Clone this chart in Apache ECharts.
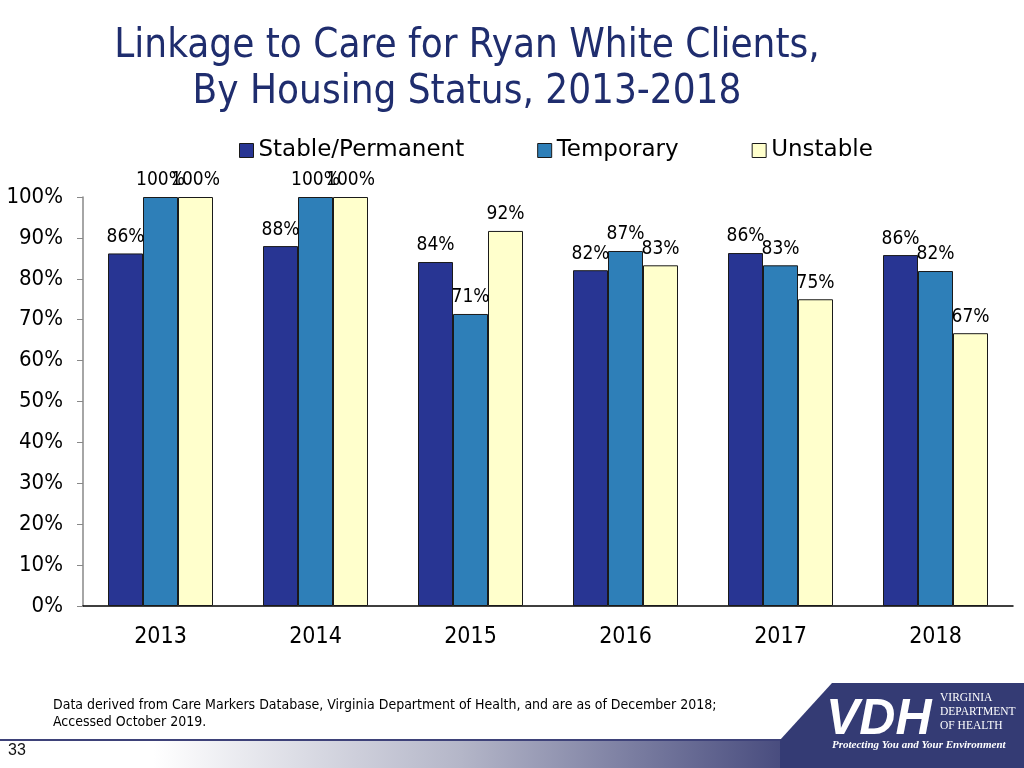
<!DOCTYPE html>
<html>
<head>
<meta charset="utf-8">
<script src="https://cdn.jsdelivr.net/npm/echarts@6/dist/echarts.min.js"></script>
<style>html,body{margin:0;padding:0;background:#fff;}#c{width:1024px;height:768px;}</style>
</head>
<body>
<div id="c"></div>
<script>
const categories = ['2013', '2014', '2015', '2016', '2017', '2018'];
const stable = [86.2, 88.0, 84.1, 82.1, 86.3, 85.8];
const temporary = [100, 100, 71.4, 86.8, 83.3, 81.9];
const unstable = [100, 100, 91.7, 83.3, 75.0, 66.7];
const seriesNames = ['Stable/Permanent', 'Temporary', 'Unstable'];
const yTicks = [0, 10, 20, 30, 40, 50, 60, 70, 80, 90, 100];
const titleText = 'Linkage to Care for Ryan White Clients,\nBy Housing Status, 2013-2018';
const footnote = 'Data derived from Care Markers Database, Virginia Department of Health, and are as of December 2018;\nAccessed October 2019.';

const FONT = '"DejaVu Sans Condensed", "DejaVu Sans", sans-serif';
const FONTW = '"DejaVu Sans", sans-serif';
const colors = ['#283593', '#2e7fb8', '#ffffcc'];
const chart = echarts.init(document.getElementById('c'));

function mk(name, data, color) {
  return {
    name: name, type: 'bar', data: data,
    barWidth: 35, barGap: '0%',
    itemStyle: { color: color, borderColor: '#1a1a1a', borderWidth: 1 },
    label: {
      show: true, position: 'top', distance: 7,
      formatter: p => Math.round(p.value) + '%',
      fontFamily: FONT, fontSize: 19, color: '#000'
    }
  };
}

chart.setOption({
  animation: false,
  backgroundColor: '#fff',
  title: {
    text: titleText, left: 462, top: 19, textAlign: 'center',
    textStyle: { fontFamily: FONT, fontSize: 40, fontWeight: 'normal', color: '#1f2d6e', lineHeight: 46 }
  },
  legend: {
    data: seriesNames, left: 239, top: 139, padding: 0, itemWidth: 14, itemHeight: 14, itemGap: 73,
    icon: 'rect',
    textStyle: { fontFamily: FONTW, fontSize: 23, color: '#000' },
    itemStyle: { borderColor: '#1a1a1a', borderWidth: 1 }
  },
  grid: { left: 83, right: 11, top: 197, bottom: 162 },
  xAxis: {
    type: 'category', data: categories,
    axisLine: { lineStyle: { color: '#000', width: 1.5 } },
    axisTick: { show: false },
    axisLabel: { fontFamily: FONT, fontSize: 23, color: '#000', margin: 20 }
  },
  yAxis: {
    type: 'value', min: 0, max: 100, interval: 10,
    axisLine: { show: true, lineStyle: { color: '#888', width: 1.5 } },
    axisTick: { show: true, length: 6, inside: false, lineStyle: { color: '#888' } },
    splitLine: { show: false },
    axisLabel: { fontFamily: FONT, fontSize: 22, color: '#000', margin: 20,
      formatter: v => yTicks.indexOf(v) >= 0 ? v + '%' : '' }
  },
  series: [mk(seriesNames[0], stable, colors[0]), mk(seriesNames[1], temporary, colors[1]), mk(seriesNames[2], unstable, colors[2])],
  graphic: [
    { type: 'text', left: 53, top: 697, style: { text: footnote, fontFamily: FONT, fontSize: 14, lineHeight: 17, fill: '#000' } },
    { type: 'rect', shape: { x: 0, y: 741, width: 1024, height: 27 },
      style: { fill: new echarts.graphic.LinearGradient(0, 0, 1, 0, [
        { offset: 0, color: '#ffffff' }, { offset: 0.15, color: '#ffffff' },
        { offset: 0.45, color: '#b4b6c8' }, { offset: 0.8, color: '#3c4076' }, { offset: 1, color: '#333a72' }]) } },
    { type: 'rect', shape: { x: 0, y: 739, width: 1024, height: 2 }, style: { fill: '#3e4279' } },
    { type: 'polygon', shape: { points: [[832, 683], [1024, 683], [1024, 768], [780, 768], [780, 740]] }, style: { fill: '#343b74' } },
    { type: 'text', left: 8, top: 743, style: { text: '33', fontFamily: 'Liberation Sans, Arial, sans-serif', fontSize: 16, fill: '#111' } },
    { type: 'text', left: 826, top: 695, style: { text: 'VDH', fontFamily: '"Liberation Sans", sans-serif', fontSize: 50, fontStyle: 'italic', fontWeight: 'bold', fill: '#ffffff' } },
    { type: 'text', left: 940, top: 691, style: { text: 'VIRGINIA\nDEPARTMENT\nOF HEALTH', fontFamily: '"Liberation Serif", serif', fontSize: 11.5, lineHeight: 14, fill: '#ffffff' } },
    { type: 'text', left: 832, top: 740, style: { text: 'Protecting You and Your Environment', fontFamily: '"Liberation Serif", serif', fontSize: 11, fontStyle: 'italic', fontWeight: 'bold', fill: '#ffffff' } }
  ]
});
</script>
</body>
</html>
